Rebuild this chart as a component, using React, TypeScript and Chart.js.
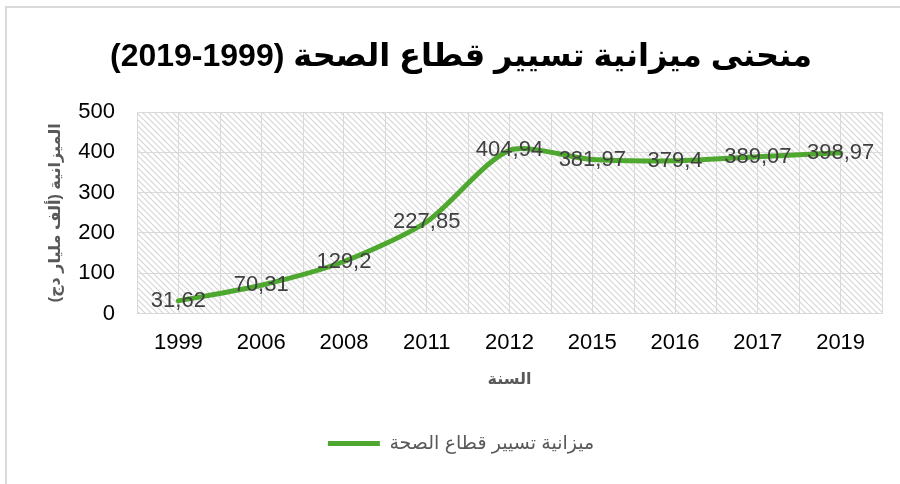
import React, { useEffect, useRef } from "react";
import { Chart, registerables } from "chart.js";

Chart.register(...registerables);

const years = ["1999", "2006", "2008", "2011", "2012", "2015", "2016", "2017", "2019"];
const budget = [31.62, 70.31, 129.2, 227.85, 404.94, 381.97, 379.4, 389.07, 398.97];
const budgetLabels = ["31,62", "70,31", "129,2", "227,85", "404,94", "381,97", "379,4", "389,07", "398,97"];
const yMin = 0;
const yMax = 500;
const yStep = 100;
// logical order; displayed right-to-left as "(2019-1999)"
const chartTitle = "منحنى ميزانية تسيير قطاع الصحة (1999-2019)";
const seriesName = "ميزانية تسيير قطاع الصحة";
const xTitle = "السنة";
const yTitle = "الميزانية (ألف مليار دج)";

const FAMILY = "'Liberation Sans', Arial, 'DejaVu Sans', sans-serif";
const GRID = "#d9d9d9";

const decorPlugin = {
  id: "decor",
  beforeDraw(chart: any) {
    const { ctx, chartArea: a } = chart;
    const p = document.createElement("canvas");
    p.width = 6;
    p.height = 6;
    const pc = p.getContext("2d")!;
    pc.strokeStyle = "#d6d6d6";
    pc.lineWidth = 1.2;
    pc.beginPath();
    pc.moveTo(0, 0);
    pc.lineTo(6, 6);
    pc.moveTo(-1, 5);
    pc.lineTo(1, 7);
    pc.moveTo(5, -1);
    pc.lineTo(7, 1);
    pc.stroke();
    ctx.save();
    ctx.fillStyle = ctx.createPattern(p, "repeat");
    ctx.fillRect(a.left, a.top, a.width, a.height);
    ctx.restore();
  },
  beforeDatasetsDraw(chart: any) {
    const { ctx, chartArea: a } = chart;
    const xs = chart.scales.x;
    const step = xs.getPixelForValue(1) - xs.getPixelForValue(0);
    ctx.save();
    ctx.strokeStyle = GRID;
    ctx.lineWidth = 1;
    ctx.beginPath();
    for (let i = 0; i <= years.length; i++) {
      const px = Math.round(xs.getPixelForValue(i) - step / 2) + 0.5;
      ctx.moveTo(px, a.top);
      ctx.lineTo(px, a.bottom);
    }
    ctx.stroke();
    ctx.restore();
  },
  afterDatasetsDraw(chart: any) {
    const { ctx } = chart;
    const meta = chart.getDatasetMeta(0);
    ctx.save();
    ctx.font = `22px ${FAMILY}`;
    ctx.fillStyle = "#404040";
    ctx.textAlign = "center";
    ctx.textBaseline = "middle";
    meta.data.forEach((pt: any, i: number) => {
      ctx.fillText(budgetLabels[i], pt.x, pt.y);
    });
    ctx.restore();
  },
};

export default function App() {
  const ref = useRef<HTMLCanvasElement | null>(null);

  useEffect(() => {
    if (!ref.current) return;
    const chart = new Chart(ref.current, {
      type: "line",
      data: {
        labels: years,
        datasets: [
          {
            label: seriesName,
            data: budget,
            borderColor: "#4EA72E",
            backgroundColor: "#4EA72E",
            borderWidth: 5,
            borderCapStyle: "round",
            pointRadius: 0,
            pointHoverRadius: 0,
            tension: 0.25,
            fill: false,
          },
        ],
      },
      options: {
        animation: false,
        responsive: true,
        maintainAspectRatio: false,
        layout: { padding: { left: 40, right: 18, top: 0, bottom: 21 } },
        scales: {
          x: {
            type: "category",
            offset: true,
            grid: { color: GRID, drawTicks: false, offset: false },
            border: { color: GRID, width: 1 },
            ticks: { color: "#000", font: { size: 22, family: FAMILY }, padding: 16 },
            title: {
              display: true,
              text: xTitle,
              color: "#595959",
              font: { size: 16, weight: "bold", family: FAMILY, lineHeight: 1 },
              padding: { top: 0, bottom: 36 },
            },
          },
          y: {
            min: yMin,
            max: yMax,
            grid: { color: GRID, drawTicks: false },
            border: { display: false },
            ticks: { stepSize: yStep, color: "#000", font: { size: 22, family: FAMILY }, padding: 22 },
            title: {
              display: true,
              text: yTitle,
              color: "#595959",
              font: { size: 16, weight: "bold", family: FAMILY },
              padding: { top: 6, bottom: 0 },
            },
            afterFit: (s: any) => {
              s.width = 97;
            },
          },
        },
        plugins: {
          title: {
            display: true,
            text: chartTitle,
            color: "#000",
            font: { size: 32, weight: "bold", family: FAMILY },
            padding: { top: 38, bottom: 35.6 },
          },
          legend: {
            display: true,
            position: "bottom",
            labels: {
              usePointStyle: true,
              pointStyle: "line",
              pointStyleWidth: 52,
              boxHeight: 17,
              color: "#595959",
              font: { size: 19, family: FAMILY },
              padding: 10,
            },
          },
          tooltip: { enabled: false },
        },
      },
      plugins: [decorPlugin],
    });
    return () => chart.destroy();
  }, []);

  return (
    <div style={{ position: "fixed", left: 0, top: 0, width: 900, height: 484, background: "#fff", overflow: "hidden" }}>
      <div
        style={{
          position: "absolute",
          left: 5,
          top: 6,
          width: 900,
          height: 490,
          borderTop: "2px solid #d9d9d9",
          borderLeft: "2px solid #d9d9d9",
          boxSizing: "border-box",
        }}
      />
      <canvas ref={ref} style={{ position: "absolute", left: 0, top: 0, width: 900, height: 484, direction: "rtl" }} />
    </div>
  );
}
